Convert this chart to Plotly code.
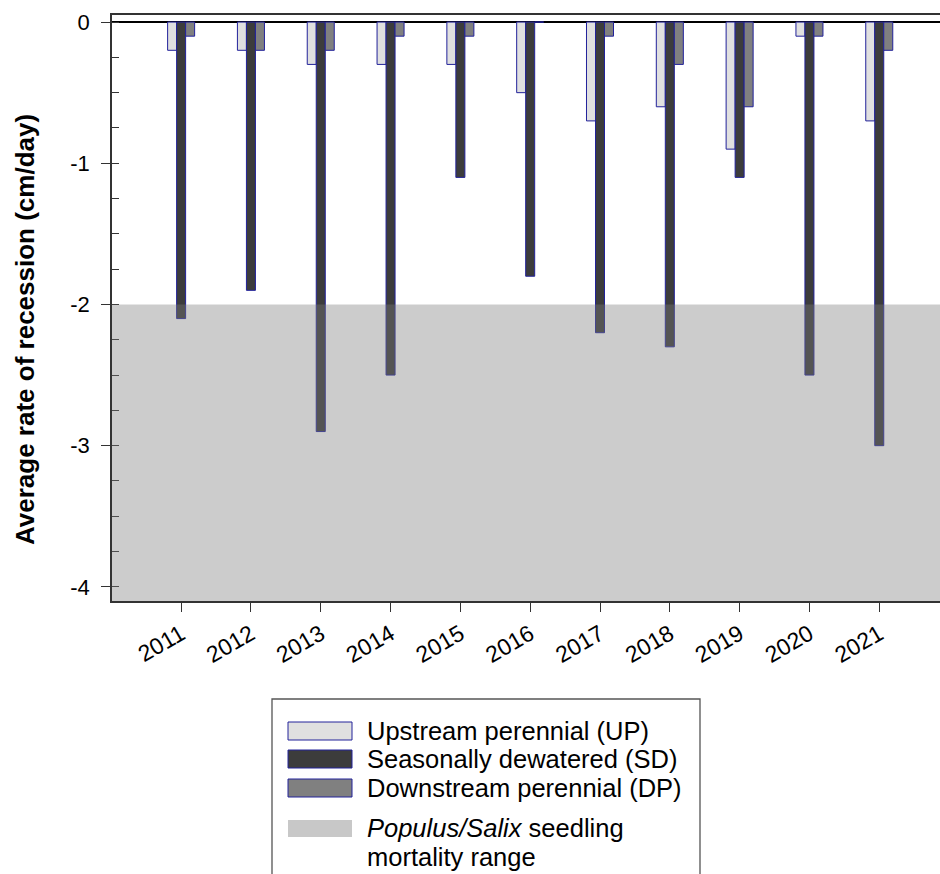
import plotly.graph_objects as go

# Average rate of water-table recession by reach and year (cm/day)
years = ["2011", "2012", "2013", "2014", "2015", "2016", "2017", "2018", "2019", "2020", "2021"]
upstream_perennial = [-0.2, -0.2, -0.3, -0.3, -0.3, -0.5, -0.7, -0.6, -0.9, -0.1, -0.7]
seasonally_dewatered = [-2.1, -1.9, -2.9, -2.5, -1.1, -1.8, -2.2, -2.3, -1.1, -2.5, -3.0]
downstream_perennial = [-0.1, -0.2, -0.2, -0.1, -0.1, 0.0, -0.1, -0.3, -0.6, -0.1, -0.2]

series_names = ["Upstream perennial (UP)", "Seasonally dewatered (SD)", "Downstream perennial (DP)"]
series_colors = ["#e0e0e0", "#3c3c3c", "#808080"]

# seedling mortality range (cm/day): recession faster than this
mortality_threshold = -2.0

y_tick_vals = [0, -1, -2, -3, -4]
y_tick_text = ["0", "-1", "-2", "-3", "-4"]

FONT = "Arial, 'Liberation Sans', sans-serif"
OUTLINE = "#22229a"

W, H = 940, 874
L, R, T, B = 112, 0, 15, 273
PW, PH = W - L - R, H - T - B


def px(x):
    return (x - L) / PW


def py(y):
    return (H - B - y) / PH


fig = go.Figure()
for name, vals, col in zip(series_names,
                           [upstream_perennial, seasonally_dewatered, downstream_perennial],
                           series_colors):
    fig.add_trace(go.Bar(
        x=years, y=vals, name=name,
        marker=dict(color=col, line=dict(color=OUTLINE, width=1)),
        showlegend=False,
    ))

shapes = [
    # translucent mortality band, drawn over the bars
    dict(type="rect", xref="paper", yref="y", x0=0, x1=1, y0=mortality_threshold, y1=-4.15,
         fillcolor="rgba(124,124,124,0.39)", line=dict(width=0), layer="above"),
    # legend frame
    dict(type="rect", xref="paper", yref="paper", x0=px(272), x1=px(700), y0=py(699), y1=py(900),
         line=dict(color="#555555", width=1.3), fillcolor="rgba(0,0,0,0)"),
]

annotations = [
    dict(text="<b>Average rate of recession (cm/day)</b>", textangle=-90,
         xref="paper", yref="paper", x=px(25), y=py(330), xanchor="center", yanchor="middle",
         showarrow=False, font=dict(family=FONT, size=26, color="#000000")),
]

LEG_SIZE = 25.5

# legend entries
swatch_rows = [(722, 740), (750, 768), (779, 797)]
text_rows = [731, 759, 788]
for (y0, y1), ty, name, col in zip(swatch_rows, text_rows, series_names, series_colors):
    shapes.append(dict(type="rect", xref="paper", yref="paper",
                       x0=px(288), x1=px(352), y0=py(y1), y1=py(y0),
                       fillcolor=col, line=dict(color=OUTLINE, width=1)))
    annotations.append(dict(text=name, xref="paper", yref="paper", x=px(365), y=py(ty),
                            xanchor="left", yanchor="middle", showarrow=False,
                            font=dict(family=FONT, size=LEG_SIZE, color="#000000")))

shapes.append(dict(type="rect", xref="paper", yref="paper",
                   x0=px(288), x1=px(352), y0=py(837), y1=py(820),
                   fillcolor="#c8c8c8", line=dict(width=0)))
annotations.append(dict(text="<i>Populus/Salix</i> seedling", xref="paper", yref="paper",
                        x=px(365), y=py(828), xanchor="left", yanchor="middle", showarrow=False,
                        font=dict(family=FONT, size=LEG_SIZE, color="#000000")))
annotations.append(dict(text="mortality range", xref="paper", yref="paper",
                        x=px(365), y=py(857), xanchor="left", yanchor="middle", showarrow=False,
                        font=dict(family=FONT, size=LEG_SIZE, color="#000000")))

fig.update_layout(
    width=W, height=H,
    margin=dict(l=L, r=R, t=T, b=B),
    paper_bgcolor="white", plot_bgcolor="white",
    barmode="group", bargap=0.613, bargroupgap=0,
    showlegend=False,
    shapes=shapes, annotations=annotations,
    font=dict(family=FONT, color="#000000"),
)

fig.update_xaxes(
    range=[-0.99, 10.87],
    showline=True, linecolor="#333333", linewidth=1.5, mirror=True,
    ticks="outside", ticklen=9, tickwidth=1.3, tickcolor="#333333",
    tickangle=-30, tickfont=dict(family=FONT, size=23, color="#000000"),
    showgrid=False, zeroline=False,
)

fig.update_yaxes(
    range=[-4.1, 0.05],
    showline=True, linecolor="#333333", linewidth=1.5,
    ticks="outside", ticklen=9, tickwidth=1.3, tickcolor="#333333",
    tickvals=y_tick_vals, ticktext=y_tick_text,
    tickfont=dict(family=FONT, size=22, color="#000000"),
    ticklabelstandoff=7,
    minor=dict(ticks="inside", ticklen=7, tickwidth=1.2, tickcolor="#333333", dtick=0.25, showgrid=False),
    showgrid=False,
    zeroline=True, zerolinecolor="#000000", zerolinewidth=1.5,
)

fig.write_html("out.html")
